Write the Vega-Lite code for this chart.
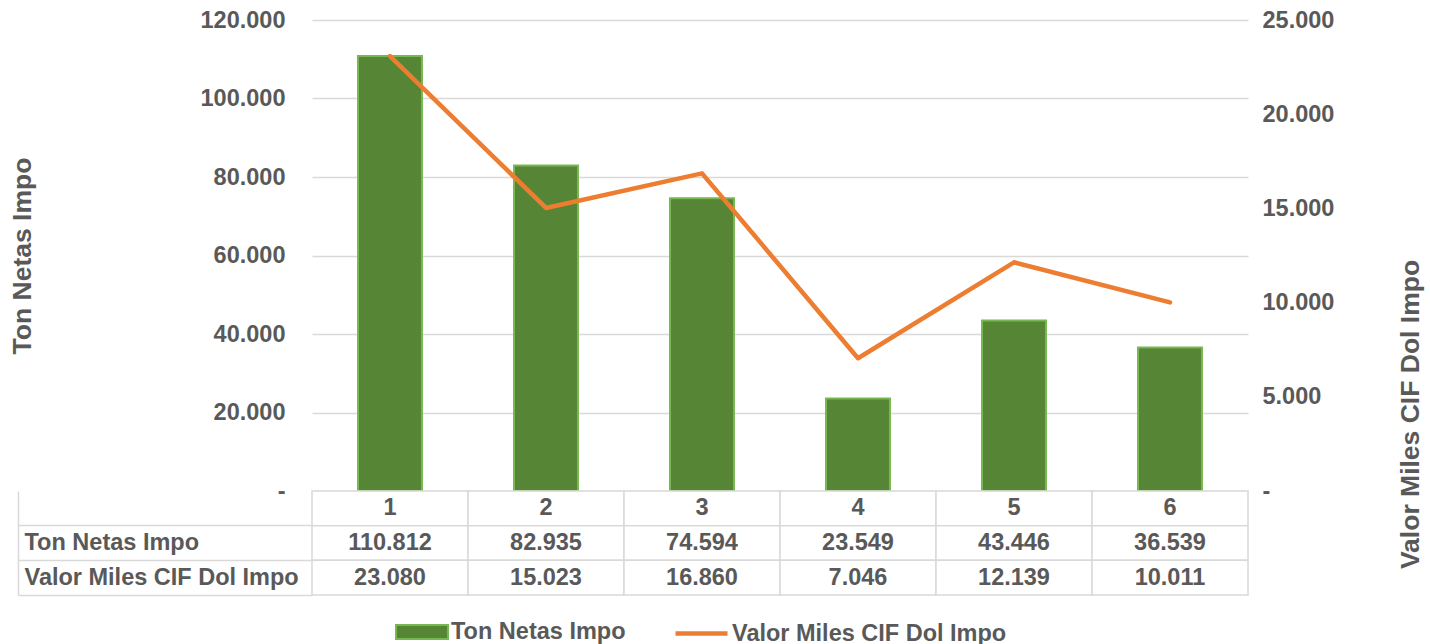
{
  "$schema": "https://vega.github.io/schema/vega-lite/v6.json",
  "padding": {"left": 9, "top": 8, "right": 5, "bottom": 0},
  "background": "white",
  "config": {
    "locale": {"number": {"decimal": ",", "thousands": ".", "grouping": [3], "currency": ["$", ""]}},
    "view": {"stroke": null},
    "font": "Liberation Sans",
    "axis": {"labelFont": "Liberation Sans", "labelFontSize": 23.5, "labelFontWeight": "bold", "labelColor": "#595959", "titleFont": "Liberation Sans", "titleFontSize": 26.5, "titleFontWeight": "bold", "titleColor": "#595959"}
  },
  "datasets": {
    "d": [
      {"cat": "1", "ton": 110812, "valor": 23080},
      {"cat": "2", "ton": 82935, "valor": 15023},
      {"cat": "3", "ton": 74594, "valor": 16860},
      {"cat": "4", "ton": 23549, "valor": 7046},
      {"cat": "5", "ton": 43446, "valor": 12139},
      {"cat": "6", "ton": 36539, "valor": 10011}
    ]
  },
  "spacing": 0,
  "bounds": "flush",
  "resolve": {"scale": {"x": "independent", "y": "independent", "color": "independent"}},
  "vconcat": [
    {
      "width": 936,
      "height": 471,
      "data": {"name": "d"},
      "layer": [
        {
          "mark": {"type": "bar", "width": {"band": 0.41}, "stroke": "#76b851", "strokeWidth": 2},
          "encoding": {
            "x": {"field": "cat", "type": "nominal", "axis": null, "scale": {"paddingInner": 0, "paddingOuter": 0}},
            "y": {
              "field": "ton", "type": "quantitative",
              "scale": {"domain": [0, 120000], "nice": false},
              "axis": {
                "title": "Ton Netas Impo",
                "values": [0, 20000, 40000, 60000, 80000, 100000, 120000],
                "grid": true, "gridColor": "#d9d9d9", "gridWidth": 1.3,
                "domain": false, "ticks": false, "labelPadding": 27,
                "labelExpr": "datum.value === 0 ? '-\u00a0\u00a0' : format(datum.value, ',.0f')",
                "titleX": -290, "titleAlign": "center", "titleBaseline": "middle"
              }
            },
            "fill": {
              "datum": "Ton Netas Impo", "type": "nominal",
              "scale": {"range": ["#568536"]},
              "legend": {
                "title": null, "orient": "none", "legendX": 83, "legendY": 585, "direction": "horizontal",
                "symbolSize": 2704, "symbolType": "M-1,-0.27H1V0.27H-1Z",
                "symbolStrokeColor": "#76b851", "symbolStrokeWidth": 2, "symbolOpacity": 1,
                "labelFont": "Liberation Sans", "labelFontSize": 23.5, "labelFontWeight": "bold",
                "labelColor": "#595959", "labelOffset": 2, "labelLimit": 400
              }
            }
          }
        },
        {
          "mark": {"type": "line", "strokeWidth": 4.5, "strokeCap": "round", "strokeJoin": "round"},
          "encoding": {
            "x": {"field": "cat", "type": "nominal"},
            "y": {
              "field": "valor", "type": "quantitative",
              "scale": {"domain": [0, 25000], "nice": false},
              "axis": {
                "title": "Valor Miles CIF Dol Impo", "orient": "right",
                "values": [0, 5000, 10000, 15000, 20000, 25000],
                "grid": false, "domain": false, "ticks": false, "labelPadding": 14,
                "labelExpr": "datum.value === 0 ? '\u00a0\u00a0\u00a0-' : format(datum.value, ',.0f')",
                "titleAngle": 270, "titleX": 162, "titleY": 394, "titleAlign": "center", "titleBaseline": "middle"
              }
            },
            "stroke": {
              "datum": "Valor Miles CIF Dol Impo", "type": "nominal",
              "scale": {"range": ["#ED7D31"]},
              "legend": {
                "title": null, "orient": "none", "legendX": 361, "legendY": 585, "direction": "horizontal",
                "symbolSize": 2704, "symbolType": "M-1,0H1",
                "symbolStrokeWidth": 4.5, "symbolOpacity": 1,
                "labelFont": "Liberation Sans", "labelFontSize": 23.5, "labelFontWeight": "bold",
                "labelColor": "#595959", "labelOffset": 2, "labelLimit": 400
              }
            }
          }
        }
      ],
      "resolve": {"scale": {"y": "independent"}}
    },
    {
      "width": 936,
      "height": 104,
      "data": {"name": "d"},
      "layer": [
        {
          "mark": {"type": "rect", "fill": "white", "stroke": "#d9d9d9", "strokeWidth": 1.5},
          "encoding": {
            "x": {"field": "cat", "type": "nominal", "axis": null, "scale": {"paddingInner": 0, "paddingOuter": 0}},
            "y": {
              "datum": "hdr", "type": "nominal",
              "scale": {"domain": ["hdr", "ton", "valor"], "paddingInner": 0, "paddingOuter": 0},
              "axis": {
                "title": null, "domain": true, "domainColor": "#d9d9d9", "domainWidth": 1.5,
                "offset": 294, "grid": false,
                "ticks": true, "tickSize": -294, "tickColor": "#d9d9d9", "tickWidth": 1.5,
                "bandPosition": 1, "labelAlign": "left", "labelPadding": 288,
                "labelBaseline": "middle", "labelLimit": 400,
                "values": ["hdr", "ton", "valor"],
                "labelExpr": "datum.value == 'ton' ? 'Ton Netas Impo' : datum.value == 'valor' ? 'Valor Miles CIF Dol Impo' : ''"
              }
            }
          }
        },
        {
          "mark": {"type": "text", "font": "Liberation Sans", "fontSize": 23.5, "fontWeight": "bold", "color": "#595959"},
          "encoding": {
            "x": {"field": "cat", "type": "nominal"},
            "y": {"datum": "hdr", "type": "nominal"},
            "text": {"field": "cat", "type": "nominal"}
          }
        },
        {
          "transform": [{"fold": ["ton", "valor"], "as": ["serie", "value"]}],
          "layer": [
            {
              "mark": {"type": "rect", "fill": "white", "stroke": "#d9d9d9", "strokeWidth": 1.5},
              "encoding": {
                "x": {"field": "cat", "type": "nominal"},
                "y": {"field": "serie", "type": "nominal"}
              }
            },
            {
              "mark": {"type": "text", "font": "Liberation Sans", "fontSize": 23.5, "fontWeight": "bold", "color": "#595959"},
              "encoding": {
                "x": {"field": "cat", "type": "nominal"},
                "y": {"field": "serie", "type": "nominal"},
                "text": {"field": "value", "type": "quantitative", "format": ",.0f"}
              }
            }
          ]
        }
      ]
    }
  ]
}
